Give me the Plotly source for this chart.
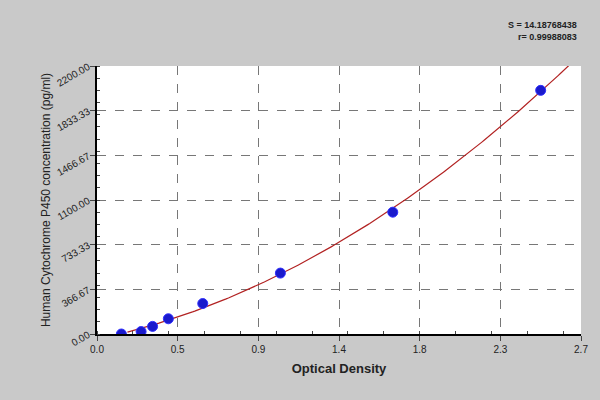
import numpy as np
import plotly.graph_objects as go

od = [0.136, 0.246, 0.31, 0.398, 0.59, 1.023, 1.65, 2.475]
conc = [0, 20, 62.5, 125, 250, 500, 1000, 2000]
x_ticks = [0.0, 0.45, 0.9, 1.35, 1.8, 2.25, 2.7]
x_labels = ["0.0", "0.5", "0.9", "1.4", "1.8", "2.3", "2.7"]
y_ticks = [0, 366.67, 733.33, 1100, 1466.67, 1833.33, 2200]
y_labels = ["0.00", "366.67", "733.33", "1100.00", "1466.67", "1833.33", "2200.00"]

# fitted standard curve
coef = np.polyfit(od[1:], conc[1:], 2)
xs = np.linspace(0.17, 2.66, 200)
ys = np.polyval(coef, xs)

fig = go.Figure()
fig.add_trace(go.Scatter(x=xs, y=ys, mode="lines",
                         line=dict(color="#b22222", width=1.2), showlegend=False))
fig.add_trace(go.Scatter(x=od, y=conc, mode="markers",
                         marker=dict(color="#1a1acc", size=10, line=dict(color="#3030ff", width=1)),
                         showlegend=False))

fig.add_annotation(x=0.995, y=1.18, xref="paper", yref="paper", showarrow=False,
                   xanchor="right", yanchor="top", align="right",
                   text="<b>S = 14.18768438<br>r= 0.99988083</b>",
                   font=dict(family="Arial", size=9, color="#222"))

fig.update_layout(
    width=600, height=400,
    paper_bgcolor="#c9c9c9", plot_bgcolor="white",
    margin=dict(l=97, r=12, t=66, b=66),
    font=dict(family="Arial", color="#222"),
    xaxis=dict(range=[0, 2.7], tickvals=x_ticks, ticktext=x_labels,
               showgrid=True, gridcolor="#777", griddash="dash", gridwidth=1,
               showline=True, linecolor="black", linewidth=1.5, zeroline=False,
               ticks="outside", ticklen=5, tickfont=dict(size=10),
               minor=dict(ticks="inside", ticklen=3, nticks=5, showgrid=False),
               title=dict(text="<b>Optical Density</b>", font=dict(size=13), standoff=10)),
    yaxis=dict(range=[0, 2200], tickvals=y_ticks, ticktext=y_labels, tickangle=-30,
               showgrid=True, gridcolor="#777", griddash="dash", gridwidth=1,
               showline=True, linecolor="black", linewidth=1.5, zeroline=False,
               ticks="outside", ticklen=5, tickfont=dict(size=10),
               minor=dict(ticks="inside", ticklen=3, nticks=5, showgrid=False),
               title=dict(text="Human Cytochrome P450 concentration (pg/ml)",
                          font=dict(size=12), standoff=2)),
)

fig.write_html("out.html", config={"displayModeBar": False},
               post_script="document.body.style.margin='0';")
